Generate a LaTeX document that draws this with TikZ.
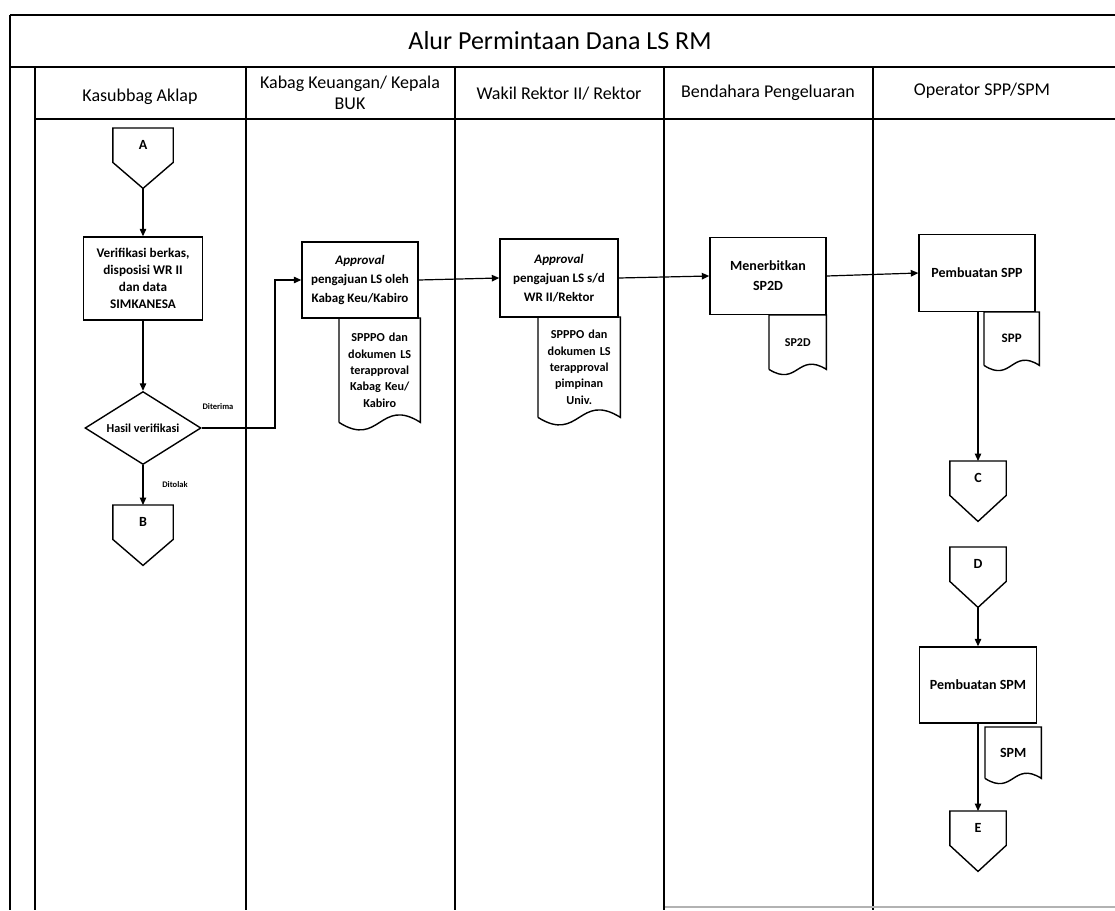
\documentclass[tikz,border=0pt]{standalone}
\usepackage{fontspec}
\setmainfont{Carlito}
\usetikzlibrary{arrows.meta,shapes.geometric,calc}

\tikzset{
  lanes/.style={line width=1.4pt},
  shapeline/.style={line width=1.4pt},
  procbox/.style={draw, line width=1.4pt, align=center, inner sep=1pt,
    font=\bfseries\fontsize{13}{19}\selectfont},
  flow/.style={line width=1.2pt, -{Triangle[length=7.5pt,width=6.5pt]}},
  docbox/.style={align=center, inner sep=0pt, font=\bfseries\fontsize{12.2}{16.3}\selectfont},
  conbox/.style={minimum height=34pt, inner sep=0pt,
    font=\bfseries\fontsize{14}{16}\selectfont},
  decide/.style={diamond, draw, line width=1.4pt, minimum width=116pt,
    minimum height=73pt, inner sep=0pt},
  headtxt/.style={align=center, font=\fontsize{18}{20.5}\selectfont},
  boldtxt/.style={font=\bfseries\fontsize{12.2}{14}\selectfont},
  smalltxt/.style={font=\bfseries\fontsize{8.5}{10}\selectfont},
}

% off-page connector: name, x, y of top edge, width, letter
\newcommand\offpage[5]{%
  \node[conbox, anchor=north, minimum width=#4pt] (#1) at (#2,#3) {#5};
  \coordinate (#1tip) at ($(#1.south)+(0,26)$);
  \draw[shapeline] (#1.north west) -- (#1.north east) -- (#1.south east)
    -- (#1tip) -- (#1.south west) -- cycle;
}

% document symbol: name, left, top, width, height, wave depth, text
\newcommand\docsym[7]{%
  \node[docbox, anchor=north west, minimum width=#4pt, text width=#4pt,
    minimum height=#5pt] (#1) at (#2,#3) {#7};
  \draw[shapeline] (#1.south west) -- (#1.north west) -- (#1.north east)
    -- (#1.south east) .. controls ($(#1.south)+(0,-#6)$) and ($(#1.south)+(0,#6)$) .. (#1.south west);
}

\begin{document}
\begin{tikzpicture}[x=1pt,y=-1pt]
\useasboundingbox (0,0) rectangle (1115,910);

% pool frame and lanes
\draw[lanes] (10,15) -- (1115,15);
\draw[lanes] (10,15) -- (10,910);
\draw[lanes] (10,67) -- (1115,67);
\draw[lanes] (35,67) -- (35,910);
\draw[lanes] (35,119) -- (1115,119);
\foreach \lx in {246,455,664,873}
  \draw[lanes] (\lx,67) -- (\lx,910);
\draw[gray!60, line width=2pt] (665,907) -- (1115,907);

% titles
\node[font=\fontsize{26}{30}\selectfont] (title) at (560,41) {Alur Permintaan Dana LS RM};
\node[headtxt] (h1) at (140,97) {Kasubbag Aklap};
\node[headtxt] (h2) at (350,93) {Kabag Keuangan/ Kepala\\BUK};
\node[headtxt] (h3) at (559,94) {Wakil Rektor II/ Rektor};
\node[headtxt] (h4) at (768,93) {Bendahara Pengeluaran};
\node[headtxt] (h5) at (982,91) {Operator SPP/SPM};

% Kasubbag Aklap
\offpage{A}{143}{128}{60}{A}
\node[procbox, minimum width=119pt, minimum height=83pt,
  font=\bfseries\fontsize{13.2}{17}\selectfont] (vb) at (143,278.5)
  {Verifikasi berkas,\\disposisi WR II\\dan data\\SIMKANESA};
\node[decide] (dec) at (143,428) {};
\node[boldtxt] (decT) at (dec.center) {Hasil verifikasi};
\offpage{B}{143}{505}{60}{B}
\node[smalltxt] (yes) at (218,407) {Diterima};
\node[smalltxt] (no) at (175,485) {Ditolak};
\coordinate (turn) at (275,428);

% Kabag Keuangan
\node[procbox, minimum width=116pt, minimum height=76pt] (b2) at (360,280)
  {\textit{Approval}\\pengajuan LS oleh\\Kabag Keu/Kabiro};
\docsym{d2}{339}{318}{81}{104}{26}{SPPPO dan\\dokumen LS\\terapproval\\Kabag Keu/\\Kabiro}

% Wakil Rektor
\node[procbox, minimum width=118pt, minimum height=78pt] (b3) at (559,278)
  {\textit{Approval}\\pengajuan LS s/d\\WR II/Rektor};
\docsym{d3}{538}{317}{82}{100}{26}{SPPPO dan\\dokumen LS\\terapproval\\pimpinan\\Univ.}

% Bendahara
\node[procbox, minimum width=116pt, minimum height=77pt,
  font=\bfseries\fontsize{14}{20}\selectfont] (b4) at (768,276) {Menerbitkan\\SP2D};
\docsym{d4}{769}{315}{57}{54}{18}{\fontsize{12}{14}\selectfont SP2D}

% Operator SPP/SPM
\node[procbox, minimum width=116pt, minimum height=77pt,
  font=\bfseries\fontsize{14}{16}\selectfont] (b5) at (977,273) {Pembuatan SPP};
\docsym{d5}{984}{312}{55}{53}{18}{\fontsize{13}{15}\selectfont SPP}
\offpage{C}{978}{461}{56}{C}
\offpage{D}{978}{547}{56}{D}
\node[procbox, minimum width=117pt, minimum height=76pt,
  font=\bfseries\fontsize{14}{16}\selectfont] (b6) at (978,685) {Pembuatan SPM};
\docsym{d6}{985}{727}{56}{51}{18}{\fontsize{14}{16}\selectfont SPM}
\offpage{E}{978}{811}{56}{E}

% connectors
\draw[flow] (Atip) -- (vb.north);
\draw[flow] (vb.south) -- (dec.north);
\draw[flow] (dec.south) -- (B.north);
\draw[flow] (dec.east) -- (turn) |- (b2.west);
\draw[flow] (b2.east) -- (b3.west);
\draw[flow] (b3.east) -- (b4.west);
\draw[flow] (b4.east) -- (b5.west);
\draw[flow] (b5.south -| C.north) -- (C.north);
\draw[flow] (Dtip) -- (b6.north);
\draw[flow] (b6.south) -- (E.north);
\end{tikzpicture}
\end{document}
